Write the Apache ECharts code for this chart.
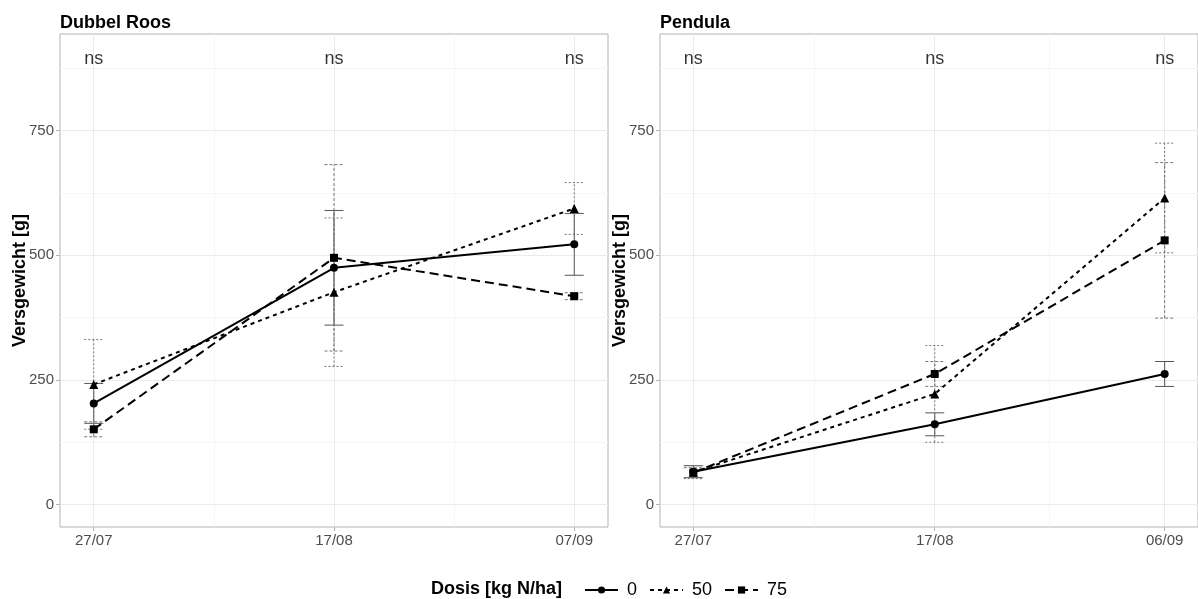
<!DOCTYPE html>
<html>
<head>
<meta charset="utf-8">
<script src="https://cdn.jsdelivr.net/npm/echarts@6/dist/echarts.min.js"></script>
<style>html,body{margin:0;padding:0;background:#fff;}#c{width:1198px;height:599px;}</style>
</head>
<body>
<div id="c"></div>
<script>
// ---- data ----
const panelTitles = ['Dubbel Roos', 'Pendula'];
const doses = ['0', '50', '75'];
const drDays = [0, 21, 42];
const drDates = ['27/07', '17/08', '07/09'];
const peDays = [0, 21, 41];
const peDates = ['27/07', '17/08', '06/09'];
// Dubbel Roos: means and error (half-width)
const dr0 = [203, 475, 522];   const dr0Err = [40, 115, 62];
const dr50 = [241, 426, 594];  const dr50Err = [90, 149, 52];
const dr75 = [151, 495, 418];  const dr75Err = [15, 187, 7];
// Pendula
const pe0 = [66, 161, 262];    const pe0Err = [12, 23, 25];
const pe50 = [65, 222, 615];   const pe50Err = [13, 97, 110];
const pe75 = [64, 262, 530];   const pe75Err = [10, 25, 156];
const yTicks = [0, 250, 500, 750];
const yMinor = [125, 375, 625, 875];
const sigLabels = ['ns', 'ns', 'ns'];
const sigY = 893;

// ---- chart ----
const FONT = 'Liberation Sans, Arial, sans-serif';
const chart = echarts.init(document.getElementById('c'));
const lineStyles = [
  {type: 'solid', symbol: 'circle', size: 8},
  {type: [4, 4], symbol: 'triangle', size: 9},
  {type: [9, 5], symbol: 'rect', size: 8}
];
const ebDash = [null, [2, 2], [3, 2]];

const panels = [
  {days: drDays, dates: drDates, means: [dr0, dr50, dr75], errs: [dr0Err, dr50Err, dr75Err], xmin: -2.95, xmax: 44.95, left: 60},
  {days: peDays, dates: peDates, means: [pe0, pe50, pe75], errs: [pe0Err, pe50Err, pe75Err], xmin: -2.9, xmax: 43.9, left: 660}
];

const grids = [], xAxes = [], yAxes = [], series = [], titles = [];
panels.forEach((p, pi) => {
  grids.push({left: p.left, top: 34, width: 548, height: 493, show: true, borderColor: '#b3b3b3', borderWidth: 1, containLabel: false});
  titles.push({text: panelTitles[pi], left: p.left - 5, top: 9, textStyle: {fontFamily: FONT, fontSize: 18, fontWeight: 'bold', color: '#000'}});
  const dates = p.dates, days = p.days;
  xAxes.push({
    type: 'value', gridIndex: pi, min: p.xmin, max: p.xmax, position: 'bottom',
    axisLine: {show: false, onZero: false},
    splitLine: {show: false},
    axisTick: {show: true, customValues: days, length: 4, lineStyle: {color: '#b3b3b3'}},
    axisLabel: {customValues: days, margin: 6, fontFamily: FONT, fontSize: 15, color: '#4d4d4d',
      formatter: v => dates[days.indexOf(v)] || ''}
  });
  yAxes.push({
    type: 'value', gridIndex: pi, min: -45, max: 944, position: 'left',
    name: 'Versgewicht [g]', nameLocation: 'middle', nameGap: 31, nameMoveOverlap: false,
    nameTextStyle: {fontFamily: FONT, fontSize: 18, fontWeight: 'bold', color: '#000'},
    axisLine: {show: false, onZero: false},
    splitLine: {show: false},
    axisTick: {show: true, customValues: yTicks, length: 4, lineStyle: {color: '#b3b3b3'}},
    axisLabel: {customValues: yTicks, margin: 6, fontFamily: FONT, fontSize: 15, color: '#4d4d4d'}
  });
  // grid lines via markLine on a dummy series
  const minorX = [(days[0] + days[1]) / 2, (days[1] + days[2]) / 2];
  const ml = [];
  yTicks.forEach(v => ml.push({yAxis: v, lineStyle: {color: '#ebebeb', width: 1, type: 'solid'}}));
  yMinor.forEach(v => ml.push({yAxis: v, lineStyle: {color: '#f5f5f5', width: 1, type: 'solid'}}));
  days.forEach(v => ml.push({xAxis: v, lineStyle: {color: '#ebebeb', width: 1, type: 'solid'}}));
  minorX.forEach(v => ml.push({xAxis: v, lineStyle: {color: '#f5f5f5', width: 1, type: 'solid'}}));
  series.push({
    type: 'line', name: 'grid' + pi, xAxisIndex: pi, yAxisIndex: pi, data: [], z: 0, silent: true,
    markLine: {silent: true, symbol: 'none', label: {show: false}, animation: false, z: 0, data: ml}
  });
  // error bars
  doses.forEach((d, di) => {
    const data = days.map((x, k) => [x, p.means[di][k] - p.errs[di][k], p.means[di][k] + p.errs[di][k]]);
    series.push({
      type: 'custom', name: 'eb' + d, xAxisIndex: pi, yAxisIndex: pi, z: 3, silent: true,
      renderItem: (params, api) => {
        const x = api.value(0);
        const lo = api.coord([x, api.value(1)]);
        const hi = api.coord([x, api.value(2)]);
        const w = 9.5;
        const style = {stroke: di === 0 ? '#555' : '#777', lineWidth: 1, lineDash: ebDash[di]};
        return {type: 'group', children: [
          {type: 'line', shape: {x1: lo[0], y1: lo[1], x2: hi[0], y2: hi[1]}, style},
          {type: 'line', shape: {x1: lo[0] - w, y1: lo[1], x2: lo[0] + w, y2: lo[1]}, style},
          {type: 'line', shape: {x1: hi[0] - w, y1: hi[1], x2: hi[0] + w, y2: hi[1]}, style}
        ]};
      },
      encode: {x: 0, y: [1, 2]},
      data
    });
  });
  // lines
  doses.forEach((d, di) => {
    const ls = lineStyles[di];
    series.push({
      type: 'line', name: d, xAxisIndex: pi, yAxisIndex: pi, z: 5,
      symbol: ls.symbol, symbolSize: ls.size, showSymbol: true,
      itemStyle: {color: '#000'},
      lineStyle: {color: '#000', width: 2, type: ls.type},
      data: days.map((x, k) => [x, p.means[di][k]])
    });
  });
  // significance labels
  series.push({
    type: 'scatter', name: 'sig' + pi, xAxisIndex: pi, yAxisIndex: pi, symbolSize: 0, silent: true,
    label: {show: true, position: 'inside', formatter: prm => sigLabels[prm.dataIndex],
      fontFamily: FONT, fontSize: 18, color: '#000'},
    data: days.map(x => [x, sigY])
  });
});

chart.setOption({
  animation: false,
  backgroundColor: '#fff',
  title: titles,
  grid: grids,
  xAxis: xAxes,
  yAxis: yAxes,
  legend: {
    data: doses, left: 579, top: 576, itemWidth: 33, itemHeight: 9, itemGap: 12,
    textStyle: {fontFamily: FONT, fontSize: 18, color: '#000', padding: [0, 0, 0, 4]},
    selectedMode: false
  },
  graphic: [{
    type: 'text', left: 431, top: 580,
    style: {text: 'Dosis [kg N/ha]', fontFamily: FONT, fontSize: 18, fontWeight: 'bold', fill: '#000'}
  }],
  series
});
</script>
</body>
</html>
